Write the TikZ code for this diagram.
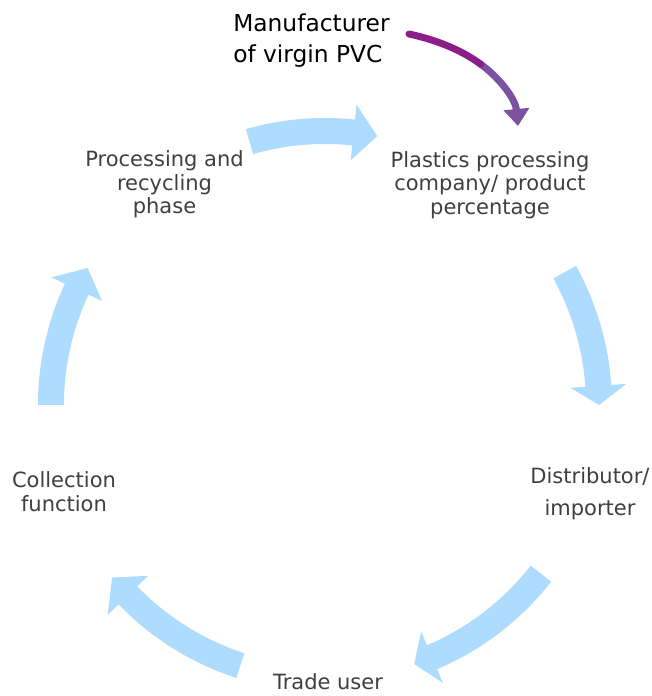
\documentclass[tikz,border=0pt]{standalone}
\usepackage{fontspec}
\setmainfont{DejaVu Sans}
\usetikzlibrary{arrows.meta}
\definecolor{cycleblue}{HTML}{AEDCFE}
\definecolor{labelgray}{HTML}{3F3F3F}
\definecolor{pvcmagenta}{HTML}{8A1F89}
\definecolor{pvcpurple}{HTML}{7A52A2}
\tikzset{
    stage/.style={text=labelgray,align=center,inner sep=0pt,font=\fontsize{15.75}{17.6}\selectfont},
    source/.style={text=black,align=left,inner sep=0pt,anchor=west,font=\fontsize{17.5}{23.25}\selectfont},
    cyc/.style={fill=cycleblue,draw=none},
    pvc/.style={line width=5.25pt,line cap=round},
}

\begin{document}
\begin{tikzpicture}[x=0.75pt,y=0.75pt]
\useasboundingbox (-325,-291) rectangle (326,405);
\def\Ro{215.25pt}
\def\Ri{195.75pt}
\def\Rc{205.5pt}
\def\Rh{226.5pt}
\def\Rl{184.5pt}
\foreach \t/\b/\p in {106/84/79, 29/4/0, -38/-67/-71, -108/-136/-141, 180/155/150}
    \fill[cyc] (\t:\Ro) arc[start angle=\t, end angle=\b, radius=\Ro]
        -- (\b:\Rh) -- (\p:\Rc) -- (\b:\Rl) -- (\b:\Ri)
        arc[start angle=\b, end angle=\t, radius=\Ri] -- cycle;

\node[stage] (plastics) at (165,220) {Plastics processing\\company/ product\\percentage};
\node[stage, font=\fontsize{15.75}{24}\selectfont] (distributor) at (265,-88.5) {Distributor/\\importer};
\node[stage] (trade) at (3,-277) {Trade user};
\node[stage] (collection) at (-261,-86.5) {Collection\\function};
\node[stage] (recycling) at (-160.5,220.5) {Processing and\\recycling\\phase};
\node[source] (manufacturer) at (-92,364) {Manufacturer\\of virgin PVC};

\coordinate (pvcstart) at (84,371);
\coordinate (pvcmid) at (155.75,340.75);
\coordinate (pvcend) at (193,279);
\draw[pvc, pvcpurple, -{Triangle[width=18.75pt,length=12.75pt]}]
    (pvcmid) .. controls (176,325.75) and (190.5,305.5) .. (pvcend);
\draw[pvc, pvcmagenta]
    (pvcstart) .. controls (109.5,365.5) and (135.5,355.75) .. (pvcmid);
\end{tikzpicture}
\end{document}
